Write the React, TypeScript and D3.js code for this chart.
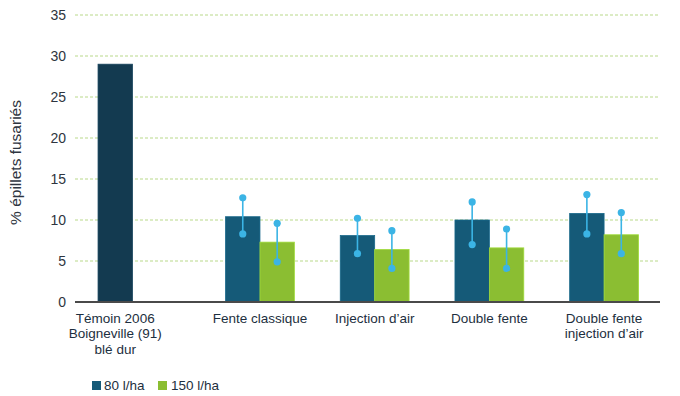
import * as d3 from "d3";
import React from "react";

// categories (multi-line labels)
const categories = [
  ["Témoin 2006", "Boigneville (91)", "blé dur"],
  ["Fente classique"],
  ["Injection d’air"],
  ["Double fente"],
  ["Double fente", "injection d’air"],
];
const seriesNames = ["80 l/ha", "150 l/ha"];
const values80 = [29, 10.4, 8.1, 10.0, 10.8];
const values150 = [null, 7.3, 6.4, 6.6, 8.2];
const low80 = [null, 8.3, 5.9, 7.0, 8.3];
const high80 = [null, 12.7, 10.2, 12.2, 13.1];
const low150 = [null, 4.9, 4.1, 4.1, 5.9];
const high150 = [null, 9.6, 8.7, 8.9, 10.9];
const yTicks = [0, 5, 10, 15, 20, 25, 30, 35];

const W = 680, H = 396;
const margin = {top: 15, right: 20, bottom: 94, left: 75};
const colTemoin = "#133a50";
const col80 = "#155a78";
const col150 = "#8bbe32";
const colErr = "#3bb4e5";
const temoinShift = -30; // témoin bar sits left of its slot

export default function App() {
  const x = d3.scaleBand()
    .domain(categories.map((c, i) => String(i)))
    .range([margin.left, W - margin.right])
    .paddingInner(0.4)
    .paddingOuter(0.25)
    .align(0.625);
  const xs = d3.scaleBand().domain(["0", "1"]).range([0, x.bandwidth()]);
  const y = d3.scaleLinear().domain([0, 35]).range([H - margin.bottom, margin.top]);

  const bars: any[] = [];
  categories.forEach((c, i) => {
    const x0 = x(String(i))!;
    if (values150[i] == null) {
      bars.push({x: x0 + x.bandwidth() / 2 - xs.bandwidth() / 2 + temoinShift, v: values80[i], color: colTemoin, lo: null, hi: null});
    } else {
      bars.push({x: x0 + xs("0")!, v: values80[i], color: col80, lo: low80[i], hi: high80[i]});
      bars.push({x: x0 + xs("1")!, v: values150[i], color: col150, lo: low150[i], hi: high150[i]});
    }
  });

  const font = "'Liberation Sans', Arial, Helvetica, sans-serif";

  return (
    <svg width={W} height={H} style={{position: "absolute", left: 0, top: 0}} fontFamily={font}>
      <rect width={W} height={H} fill="#fff" />
      {/* grid */}
      {yTicks.filter(t => t > 0).map(t => (
        <line key={t} x1={margin.left} x2={W - margin.right} y1={y(t)} y2={y(t)}
          stroke="#b9d98a" strokeWidth={1} strokeDasharray="3,2" />
      ))}
      {yTicks.map(t => (
        <text key={"l" + t} x={margin.left - 9} y={y(t)} dy="0.35em" textAnchor="end"
          fontSize={14} fill="#2e3540">{t}</text>
      ))}
      <text transform={`translate(21,${(y(35) + y(0)) / 2 + 4}) rotate(-90)`} textAnchor="middle"
        fontSize={15.5} fill="#2e3540">% épillets fusariés</text>
      {/* bars */}
      {bars.map((b, i) => (
        <rect key={"b" + i} x={b.x} y={y(b.v)} width={xs.bandwidth()} height={y(0) - y(b.v)}
          fill={b.color} stroke={d3.color(b.color)!.brighter(0.4).toString()} strokeWidth={0.8} />
      ))}
      {/* error bars */}
      {bars.filter(b => b.lo != null).map((b, i) => {
        const cx = b.x + xs.bandwidth() / 2;
        return (
          <g key={"e" + i}>
            <line x1={cx} x2={cx} y1={y(b.lo)} y2={y(b.hi)} stroke={colErr} strokeWidth={1.6} />
            <circle cx={cx} cy={y(b.lo)} r={3.6} fill={colErr} />
            <circle cx={cx} cy={y(b.hi)} r={3.6} fill={colErr} />
          </g>
        );
      })}
      <line x1={margin.left} x2={W - margin.right} y1={y(0)} y2={y(0)} stroke="#4a4a4a" strokeWidth={2} />
      {/* x labels */}
      {categories.map((c, i) => {
        const cx = x(String(i))! + x.bandwidth() / 2 + (values150[i] == null ? temoinShift : 0);
        return (
          <text key={"x" + i} textAnchor="middle" fontSize={13.5} fill="#1d2f40">
            {c.map((line, j) => (
              <tspan key={j} x={cx} y={y(0) + 21 + j * 15.3}>{line}</tspan>
            ))}
          </text>
        );
      })}
      {/* legend */}
      <g transform="translate(92,381)">
        <rect x={0} y={0} width={9} height={9} fill={col80} />
        <text x={12} y={9} fontSize={13.5} fill="#1d2f40">{seriesNames[0]}</text>
        <rect x={66} y={0} width={9} height={9} fill={col150} />
        <text x={79} y={9} fontSize={13.5} fill="#1d2f40">{seriesNames[1]}</text>
      </g>
    </svg>
  );
}
